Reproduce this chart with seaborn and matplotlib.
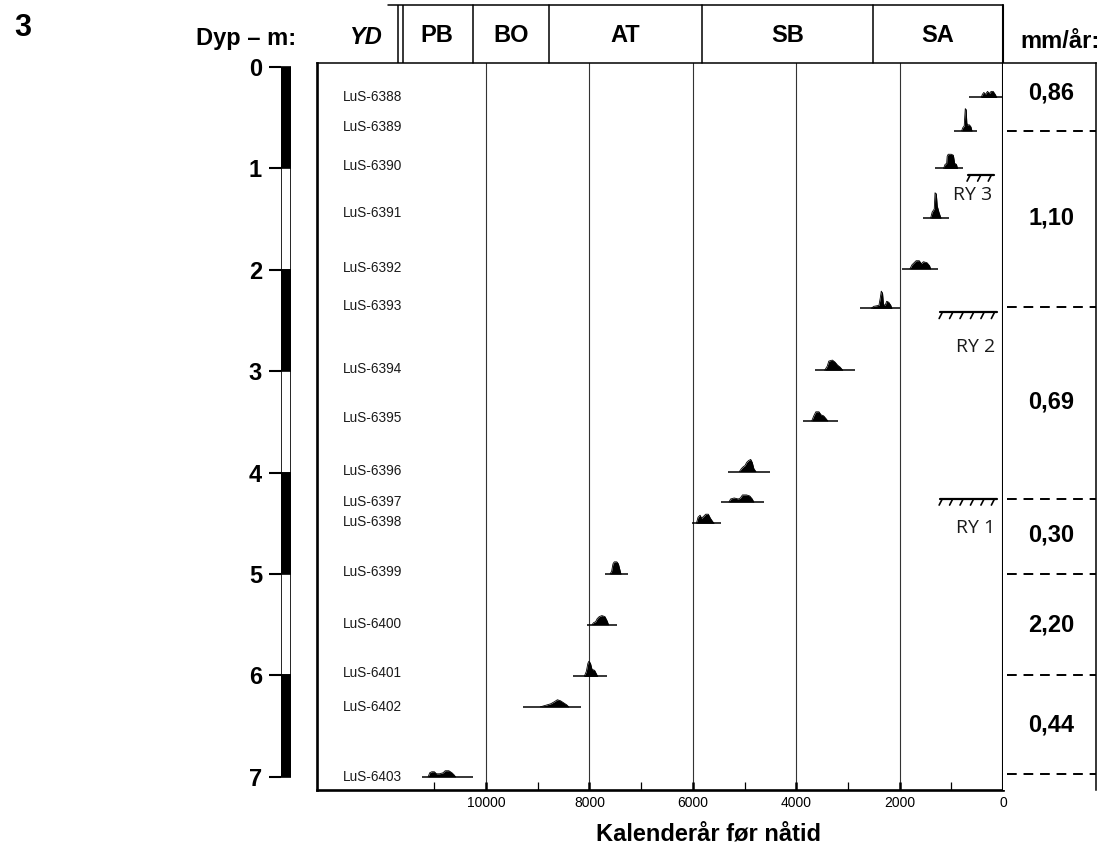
import numpy as np
import pandas as pd
import matplotlib
matplotlib.use("Agg")
import matplotlib.pyplot as plt
import seaborn as sns

# ---- values ----
lab_codes = ["LuS-6388", "LuS-6389", "LuS-6390", "LuS-6391", "LuS-6392", "LuS-6393",
             "LuS-6394", "LuS-6395", "LuS-6396", "LuS-6397", "LuS-6398", "LuS-6399",
             "LuS-6400", "LuS-6401", "LuS-6402", "LuS-6403"]
# depth (m) of each dated level = baseline of the probability curve
sample_depth = [0.30, 0.63, 1.00, 1.49, 1.99, 2.38, 2.99, 3.49, 3.99, 4.29, 4.50,
                5.00, 5.50, 6.01, 6.31, 7.00]
label_depth = [0.30, 0.59, 0.98, 1.44, 1.98, 2.36, 2.98, 3.46, 3.98, 4.29, 4.49,
               4.98, 5.49, 5.98, 6.31, 7.00]
# calibrated range (cal BP), old and young end of the baseline
range_old = [660, 948, 1315, 1547, 1953, 2766, 3636, 3868, 5318, 5454, 6015,
             7697, 8045, 8316, 9283, 11237]
range_young = [20, 503, 774, 1044, 1257, 1992, 2863, 3191, 4506, 4622, 5454,
               7253, 7465, 7659, 8161, 10250]

# probability profiles (year, height in m) for each sample
prof_6388 = [(420, 0), (400, 0.03), (370, 0.05), (340, 0.03), (300, 0.06), (260, 0.04),
             (230, 0.06), (190, 0.06), (150, 0.03), (120, 0)]
prof_6389 = [(800, 0), (780, 0.03), (750, 0.05), (740, 0.14), (730, 0.22), (712, 0.21),
             (700, 0.08), (690, 0.06), (650, 0.06), (620, 0.04), (600, 0)]
prof_6390 = [(1150, 0), (1120, 0.04), (1090, 0.05), (1080, 0.12), (1060, 0.14),
             (1000, 0.14), (960, 0.13), (935, 0.05), (900, 0.04), (880, 0)]
prof_6391 = [(1400, 0), (1370, 0.06), (1330, 0.09), (1315, 0.25), (1290, 0.24),
             (1272, 0.12), (1240, 0.06), (1200, 0)]
prof_6392 = [(1800, 0), (1760, 0.04), (1720, 0.06), (1680, 0.08), (1620, 0.08),
             (1580, 0.05), (1540, 0.07), (1470, 0.06), (1420, 0.03), (1400, 0)]
prof_6393 = [(2550, 0), (2500, 0.02), (2400, 0.03), (2375, 0.10), (2355, 0.17),
             (2330, 0.15), (2312, 0.04), (2280, 0.03), (2250, 0.07), (2210, 0.06),
             (2170, 0.03), (2150, 0)]
prof_6394 = [(3450, 0), (3400, 0.04), (3370, 0.09), (3300, 0.10), (3250, 0.08),
             (3200, 0.05), (3150, 0.03), (3100, 0)]
prof_6395 = [(3700, 0), (3660, 0.05), (3620, 0.09), (3560, 0.09), (3520, 0.06),
             (3470, 0.05), (3420, 0.02), (3390, 0)]
prof_6396 = [(5100, 0), (5060, 0.03), (5020, 0.05), (4990, 0.06), (4960, 0.09),
             (4920, 0.11), (4880, 0.12), (4850, 0.09), (4820, 0.03), (4780, 0)]
prof_6397 = [(5300, 0), (5270, 0.03), (5200, 0.04), (5120, 0.03), (5080, 0.04),
             (5040, 0.07), (4960, 0.07), (4900, 0.06), (4850, 0.03), (4820, 0)]
prof_6398 = [(5930, 0), (5900, 0.06), (5860, 0.08), (5830, 0.05), (5790, 0.07),
             (5750, 0.09), (5700, 0.09), (5660, 0.05), (5620, 0.02), (5590, 0)]
prof_6399 = [(7600, 0), (7570, 0.03), (7545, 0.10), (7520, 0.12), (7470, 0.12),
             (7440, 0.10), (7410, 0.04), (7390, 0)]
prof_6400 = [(7950, 0), (7920, 0.02), (7880, 0.03), (7850, 0.06), (7810, 0.08),
             (7760, 0.09), (7700, 0.08), (7660, 0.04), (7630, 0)]
prof_6401 = [(8100, 0), (8060, 0.05), (8030, 0.13), (8010, 0.15), (7980, 0.13),
             (7950, 0.07), (7900, 0.06), (7870, 0.03), (7840, 0)]
prof_6402 = [(8950, 0), (8850, 0.015), (8750, 0.03), (8680, 0.05), (8620, 0.07),
             (8560, 0.06), (8500, 0.04), (8440, 0.02), (8400, 0)]
prof_6403 = [(11120, 0), (11090, 0.04), (11050, 0.05), (11000, 0.05), (10960, 0.03),
             (10900, 0.03), (10830, 0.04), (10790, 0.06), (10720, 0.06), (10660, 0.04),
             (10620, 0.02), (10590, 0)]
profiles = [prof_6388, prof_6389, prof_6390, prof_6391, prof_6392, prof_6393,
            prof_6394, prof_6395, prof_6396, prof_6397, prof_6398, prof_6399,
            prof_6400, prof_6401, prof_6402, prof_6403]

# chronozones (cal BP boundaries)
zone_names = ["PB", "BO", "AT", "SB", "SA"]
zone_bounds = [11650, 10250, 8780, 5820, 2510, 0]

# accumulation rates (mm/yr) and the depths separating them
rate_labels = ["0,86", "1,10", "0,69", "0,30", "2,20", "0,44"]
rate_label_depth = [0.26, 1.49, 3.30, 4.62, 5.50, 6.49]
rate_bounds = [0.63, 2.37, 4.26, 5.00, 6.00, 6.97]

# erosion / recurrence surfaces
ry_names = ["RY 3", "RY 2", "RY 1"]
ry_depth = [1.065, 2.42, 4.26]
ry_old = [680, 1220, 1220]
ry_young = [170, 110, 110]
ry_text_depth = [1.26, 2.76, 4.55]

# lithology column (depth top of each unit, fill)
strata_top = [0, 1, 2, 3, 4, 5, 6]
strata_color = ["black", "white", "black", "white", "black", "white", "black"]

year_ticks = [10000, 8000, 6000, 4000, 2000, 0]
year_minor = [11000, 9000, 7000, 5000, 3000, 1000]
depth_ticks = [0, 1, 2, 3, 4, 5, 6, 7]

# ---- style ----
sns.set_theme(style="white")
plt.rcParams["font.family"] = ["Liberation Sans", "DejaVu Sans"]
plt.rcParams["text.color"] = "black"
plt.rcParams["axes.labelcolor"] = "black"
plt.rcParams["xtick.color"] = "black"
plt.rcParams["ytick.color"] = "black"

W, H = 1104, 847
fig = plt.figure(figsize=(W / 100, H / 100), dpi=100)


def px_axes(left, top, right, bottom):
    return fig.add_axes([left / W, 1 - bottom / H, (right - left) / W, (bottom - top) / H])


XLIM = (13270, 0)
YLIM = (7.13, -0.04)

# ---- main panel ----
ax = px_axes(317, 63, 1003, 790)
ax.set_xlim(*XLIM)
ax.set_ylim(*YLIM)

rows = []
for code, d, prof in zip(lab_codes, sample_depth, profiles):
    for yr, h in prof:
        rows.append({"sample": code, "year": yr, "top": d - h})
df = pd.DataFrame(rows)
sns.lineplot(data=df, x="year", y="top", units="sample", estimator=None, sort=False,
             color="black", lw=0.6, ax=ax, legend=False)
for d, prof in zip(sample_depth, profiles):
    yrs = [p[0] for p in prof]
    hs = np.array([p[1] for p in prof])
    ax.fill_between(yrs, d - hs, d, color="black", lw=0)
ax.hlines(sample_depth, range_old, range_young, color="black", lw=1.1)

for code, d in zip(lab_codes, label_depth):
    ax.text(12764, d, code, fontsize=9.8, va="center", ha="left", color="#1a1a1a")

for yr in year_ticks[:-1]:
    ax.axvline(yr, color="#333333", lw=0.8, zorder=0)

# RY surfaces with hatch marks
for name, d, xo, xy, td in zip(ry_names, ry_depth, ry_old, ry_young, ry_text_depth):
    ax.plot([xo, xy], [d, d], color="black", lw=1.6)
    n = max(3, int(round((xo - xy) / 180)))
    for xt in np.linspace(xo - 40, xy + 60, n):
        ax.plot([xt, xt + 55], [d + 0.005, d + 0.06], color="black", lw=1.2)
    ax.text(xy + 40, td, name, fontsize=14, ha="right", va="center",
            family=["Open Sans", "DejaVu Sans"], color="#1a1a1a")

ax.set_xticks(year_ticks)
ax.set_xticklabels([str(t) for t in year_ticks], fontsize=10)
ax.set_xticks(year_minor, minor=True)
ax.tick_params(axis="x", which="major", direction="in", length=6, width=1.8, pad=4,
               bottom=True, labelcolor="black")
ax.tick_params(axis="x", which="minor", direction="in", length=6, width=0.9,
               bottom=True)
ax.set_yticks([])
ax.set_xlabel("")
ax.set_ylabel("")
for side, lw in [("left", 1.9), ("bottom", 1.9), ("right", 1.5), ("top", 1.1)]:
    ax.spines[side].set_visible(True)
    ax.spines[side].set_linewidth(lw)
    ax.spines[side].set_color("black")

fig.text(708 / W, 1 - 834 / H, "Kalenderår før nåtid", fontsize=17, fontweight="bold",
         ha="center", va="center")

# ---- chronozone header ----
hax = px_axes(317, 5, 1003, 63)
hax.set_xlim(*XLIM)
hax.set_ylim(0, 1)
hax.axis("off")
hax.plot([zone_bounds[0] + 250, 0], [1, 1], color="black", lw=1.1, clip_on=False)
hax.plot([zone_bounds[0] + 50] * 2, [0, 1], color="black", lw=1.1)
hax.plot([zone_bounds[0] - 50] * 2, [0, 1], color="black", lw=1.1)
for b in zone_bounds[1:]:
    hax.plot([b, b], [0, 1], color="black", lw=1.1 if b else 1.5, clip_on=False)
for name, a, b in zip(zone_names, zone_bounds[:-1], zone_bounds[1:]):
    hax.text((a + b) / 2, 0.47, name, fontsize=17, fontweight="bold",
             ha="center", va="center")

fig.text(365 / W, 1 - 38 / H, "YD", fontsize=17, fontweight="bold", style="italic",
         ha="center", va="center")
fig.text(246 / W, 1 - 39 / H, "Dyp – m:", fontsize=17, fontweight="bold",
         ha="center", va="center")
fig.text(1060 / W, 1 - 41 / H, "mm/år:", fontsize=17, fontweight="bold",
         ha="center", va="center")
fig.text(23 / W, 1 - 28 / H, "3", fontsize=22, fontweight="bold",
         ha="center", va="center")

# ---- lithology / depth column ----
dax = px_axes(281, 63, 291, 790)
dax.set_xlim(0, 1)
dax.set_ylim(*YLIM)
dax.bar([0.5] * len(strata_top), [1] * len(strata_top), bottom=strata_top, width=1,
        color=strata_color, edgecolor="black", lw=1.2)
dax.set_yticks(depth_ticks)
dax.set_yticklabels([str(t) for t in depth_ticks], fontsize=17, fontweight="bold")
dax.set_xticks([])
dax.tick_params(axis="y", left=True, direction="out", length=8.6, width=1.5, pad=5,
                labelcolor="black")
for s in dax.spines.values():
    s.set_visible(False)

# ---- accumulation-rate column ----
rax = px_axes(1003, 63, 1096, 790)
rax.set_xlim(0, 1)
rax.set_ylim(*YLIM)
rax.set_xticks([])
rax.set_yticks([])
rax.spines["left"].set_visible(False)
rax.spines["bottom"].set_visible(False)
for side in ["top", "right"]:
    rax.spines[side].set_visible(True)
    rax.spines[side].set_linewidth(1.1)
    rax.spines[side].set_color("black")
rax.hlines(rate_bounds, 0.04, 1.0, color="black", lw=1.4, linestyles=(0, (5, 3.5)))
for lab, d in zip(rate_labels, rate_label_depth):
    rax.text(0.52, d, lab, fontsize=17, fontweight="bold", ha="center", va="center")

fig.savefig("out.png", dpi=100)
